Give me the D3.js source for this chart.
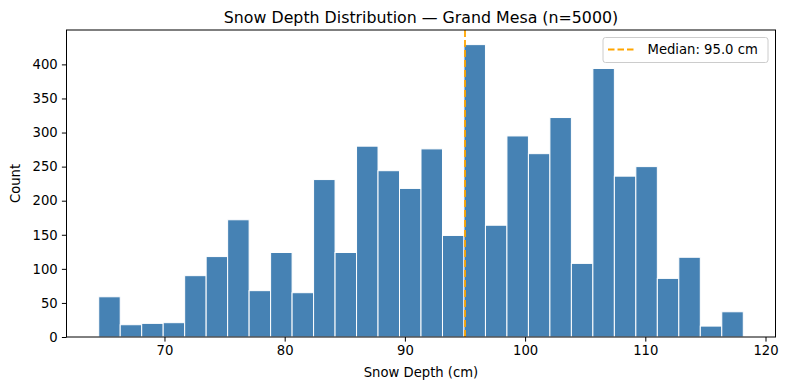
<!DOCTYPE html>
<html>
<head>
<meta charset="utf-8">
<script src="https://cdn.jsdelivr.net/npm/d3@7"></script>
<style>
  html, body { margin: 0; padding: 0; background: #fff; }
  svg { display: block; }
  text { font-family: "DejaVu Sans", sans-serif; fill: #000; }
</style>
</head>
<body>
<svg id="chart" width="788" height="390"></svg>
<script>
// ---- data ----
const dataMin = 64.53;
const dataMax = 118.15;
const counts = [59, 18, 20, 21, 90, 118, 172, 68, 124, 65,
                231, 124, 280, 244, 218, 276, 149, 429, 164, 295,
                269, 322, 108, 394, 236, 250, 86, 117, 16, 37];
const median = 95.0;
const xTicks = [70, 80, 90, 100, 110, 120];
const yTicks = [0, 50, 100, 150, 200, 250, 300, 350, 400];
const titleText = "Snow Depth Distribution \u2014 Grand Mesa (n=5000)";
const xLabel = "Snow Depth (cm)";
const yLabel = "Count";
const legendLabel = "Median: 95.0 cm";

// ---- layout ----
const W = 788, H = 390;
const plot = { left: 66.5, right: 775.5, top: 30, bottom: 337 };

const binW = (dataMax - dataMin) / counts.length;
const bins = counts.map((c, i) => ({ x0: dataMin + i * binW, x1: dataMin + (i + 1) * binW, count: c }));

const pad = (dataMax - dataMin) * 0.05;
const x = d3.scaleLinear().domain([dataMin - pad, dataMax + pad]).range([plot.left, plot.right]);
const y = d3.scaleLinear().domain([0, d3.max(counts) * 1.05]).range([plot.bottom, plot.top]);

const svg = d3.select("#chart");

// bars
svg.append("g").selectAll("rect").data(bins).join("rect")
  .attr("x", d => x(d.x0))
  .attr("y", d => y(d.count))
  .attr("width", d => x(d.x1) - x(d.x0))
  .attr("height", d => y(0) - y(d.count))
  .attr("fill", "#4682b4")
  .attr("stroke", "#ffffff")
  .attr("stroke-width", 1);

// median line
svg.append("line")
  .attr("x1", x(median)).attr("x2", x(median))
  .attr("y1", plot.top).attr("y2", plot.bottom)
  .attr("stroke", "#ffa500")
  .attr("stroke-width", 1.8)
  .attr("stroke-dasharray", "7,3");

// axes
const fs = "13.2px";
const xAxis = svg.append("g")
  .attr("transform", `translate(0,${plot.bottom})`)
  .call(d3.axisBottom(x).tickValues(xTicks).tickSize(4.6).tickPadding(4.2).tickFormat(d3.format("d")));
const yAxis = svg.append("g")
  .attr("transform", `translate(${plot.left},0)`)
  .call(d3.axisLeft(y).tickValues(yTicks).tickSize(4.6).tickPadding(4.2).tickFormat(d3.format("d")));
[xAxis, yAxis].forEach(a => {
  a.select(".domain").remove();
  a.selectAll(".tick line").attr("stroke", "#000").attr("stroke-width", 1);
  a.selectAll(".tick text").attr("font-size", fs).attr("font-family", "DejaVu Sans").attr("fill", "#000");
});

// frame
svg.append("rect")
  .attr("x", plot.left).attr("y", plot.top)
  .attr("width", plot.right - plot.left).attr("height", plot.bottom - plot.top)
  .attr("fill", "none").attr("stroke", "#000").attr("stroke-width", 1);

// title & labels
svg.append("text")
  .attr("x", (plot.left + plot.right) / 2).attr("y", 22.5)
  .attr("text-anchor", "middle").attr("font-size", "15.8px")
  .text(titleText);
svg.append("text")
  .attr("x", (plot.left + plot.right) / 2).attr("y", 377)
  .attr("text-anchor", "middle").attr("font-size", fs)
  .text(xLabel);
svg.append("text")
  .attr("transform", `translate(19.5,${(plot.top + plot.bottom) / 2}) rotate(-90)`)
  .attr("text-anchor", "middle").attr("font-size", fs)
  .text(yLabel);

// legend
const lg = svg.append("g");
lg.append("rect")
  .attr("x", 603).attr("y", 37.5).attr("width", 165).attr("height", 25)
  .attr("rx", 2.5).attr("ry", 2.5)
  .attr("fill", "rgba(255,255,255,0.8)").attr("stroke", "#cccccc").attr("stroke-width", 1);
lg.append("line")
  .attr("x1", 608).attr("x2", 636).attr("y1", 49.5).attr("y2", 49.5)
  .attr("stroke", "#ffa500").attr("stroke-width", 1.8).attr("stroke-dasharray", "6.5,3");
lg.append("text")
  .attr("x", 647.5).attr("y", 54.3).attr("font-size", fs)
  .text(legendLabel);
</script>
</body>
</html>
